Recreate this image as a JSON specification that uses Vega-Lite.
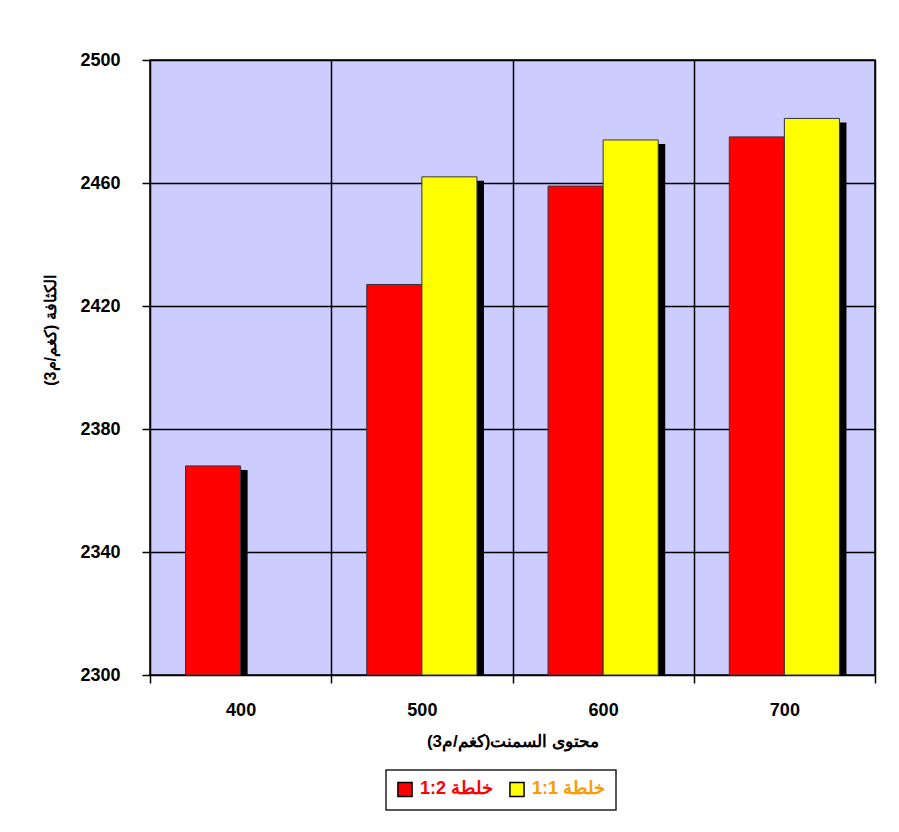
{
  "$schema": "https://vega.github.io/schema/vega-lite/v6.json",
  "width": 725,
  "height": 615,
  "autosize": "none",
  "padding": {"left": 150, "top": 60, "right": 24, "bottom": 157},
  "background": "white",
  "config": {
    "font": "Liberation Sans",
    "view": {"fill": "#CCCCFF", "stroke": "black", "strokeWidth": 1.5}
  },
  "data": {
    "values": [
      {"cement": "400", "mix": "خلطة 1:2", "density": 2368},
      {"cement": "500", "mix": "خلطة 1:2", "density": 2427},
      {"cement": "500", "mix": "خلطة 1:1", "density": 2462},
      {"cement": "600", "mix": "خلطة 1:2", "density": 2459},
      {"cement": "600", "mix": "خلطة 1:1", "density": 2474},
      {"cement": "700", "mix": "خلطة 1:2", "density": 2475},
      {"cement": "700", "mix": "خلطة 1:1", "density": 2481}
    ]
  },
  "encoding": {
    "x": {
      "field": "cement",
      "type": "nominal",
      "scale": {"paddingInner": 0, "paddingOuter": 0},
      "axis": {
        "title": "محتوى السمنت(كغم/م3)\u200f",
        "labelAngle": 0,
        "tickBand": "extent",
        "grid": true,
        "gridColor": "black",
        "gridWidth": 1.5,
        "gridOpacity": 1,
        "domain": false,
        "tickColor": "black",
        "tickWidth": 1.5,
        "tickSize": 8,
        "labelFontSize": 18,
        "labelFontWeight": "bold",
        "labelColor": "black",
        "labelPadding": 18,
        "titleFontSize": 17,
        "titleFontWeight": "bold",
        "titleColor": "black",
        "titlePadding": 14
      }
    },
    "y": {
      "field": "density",
      "type": "quantitative",
      "scale": {"domain": [2300, 2500], "zero": false, "nice": false},
      "axis": {
        "title": "الكثافة (كغم/م3)\u200f",
        "format": "d",
        "values": [2300, 2340, 2380, 2420, 2460, 2500],
        "grid": true,
        "gridColor": "black",
        "gridWidth": 1.5,
        "gridOpacity": 1,
        "domain": false,
        "tickColor": "black",
        "tickWidth": 1.5,
        "tickSize": 8,
        "labelFontSize": 18,
        "labelFontWeight": "bold",
        "labelColor": "black",
        "labelPadding": 22,
        "titleFontSize": 16,
        "titleFontWeight": "bold",
        "titleColor": "black",
        "titleX": -100,
        "titleY": 270,
        "titleAlign": "center",
        "titleBaseline": "middle"
      }
    },
    "y2": {"datum": 2300}
  },
  "layer": [
    {
      "mark": {"type": "bar", "color": "black", "yOffset": 4, "clip": true},
      "encoding": {
        "xOffset": {
          "field": "mix",
          "type": "nominal",
          "sort": ["خلطة 1:2", "خلطة 1:1"],
          "scale": {"paddingInner": 0, "paddingOuter": 0.645, "range": [7, 188.25]}
        }
      }
    },
    {
      "mark": {"type": "bar", "stroke": "#333344", "strokeWidth": 1},
      "encoding": {
        "xOffset": {
          "field": "mix",
          "type": "nominal",
          "sort": ["خلطة 1:2", "خلطة 1:1"],
          "scale": {"paddingInner": 0, "paddingOuter": 0.645}
        },
        "color": {
          "field": "mix",
          "type": "nominal",
          "scale": {"domain": ["خلطة 1:2", "خلطة 1:1"], "range": ["#FF0000", "#FFFF00"]},
          "legend": {
            "title": null,
            "orient": "none",
            "legendX": 236,
            "legendY": 710,
            "direction": "horizontal",
            "padding": 10,
            "strokeColor": "#222222",
            "fillColor": "white",
            "symbolType": "square",
            "symbolSize": 200,
            "symbolStrokeColor": "black",
            "symbolStrokeWidth": 1.5,
            "symbolOpacity": 1,
            "labelFontSize": 18,
            "labelFontWeight": "bold",
            "columnPadding": 12,
            "labelOffset": 6,
            "labelExpr": "datum.label + '\u200f'",
            "encode": {
              "legend": {"update": {"strokeWidth": {"value": 1.5}}},
              "labels": {
                "update": {
                  "fill": {"signal": "datum.value == 'خلطة 1:2' ? '#FF0000' : '#FF9900'"}
                }
              }
            }
          }
        }
      }
    }
  ],
  "resolve": {"scale": {"xOffset": "independent"}}
}
